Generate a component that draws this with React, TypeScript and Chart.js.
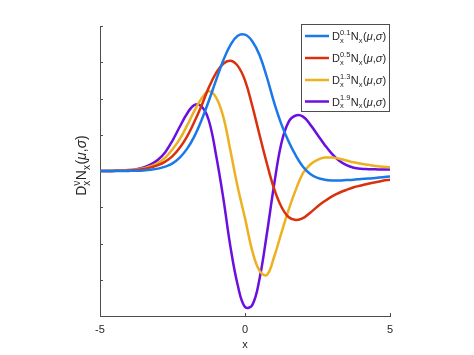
import { useEffect, useRef } from 'react';
import { Chart, registerables } from 'chart.js';

Chart.register(...registerables);

// x grid (step 0.25)
const xValues = [
  -5, -4.75, -4.5, -4.25, -4, -3.75, -3.5, -3.25, -3, -2.75, -2.5, -2.25, -2, -1.75, -1.5, -1.25, -1, -0.75, -0.5, -0.25,
  0, 0.25, 0.5, 0.75, 1, 1.25, 1.5, 1.75, 2, 2.25, 2.5, 2.75, 3, 3.25, 3.5, 3.75, 4, 4.25, 4.5, 4.75, 5,
];

// D^0.1
const alpha01Values = [
  0, 0, 0, 0, 0.003, 0.008, 0.017, 0.035, 0.065, 0.12, 0.21, 0.37, 0.61, 0.95, 1.4, 1.93, 2.5, 3.05, 3.48, 3.73,
  3.76, 3.58, 3.2, 2.6, 1.9, 1.3, 0.82, 0.43, 0.12, -0.08, -0.19, -0.24, -0.26, -0.26, -0.25, -0.24, -0.22, -0.21, -0.19, -0.17, -0.15,
];

// D^0.5
const alpha05Values = [
  0, 0, 0.003, 0.007, 0.015, 0.03, 0.055, 0.1, 0.16, 0.26, 0.41, 0.64, 0.95, 1.35, 1.8, 2.3, 2.7, 2.96, 3.04, 2.9,
  2.5, 1.8, 1.0, 0.22, -0.48, -0.98, -1.27, -1.35, -1.3, -1.15, -0.98, -0.83, -0.7, -0.6, -0.52, -0.45, -0.4, -0.35, -0.31, -0.27, -0.24,
];

// D^1.3
const alpha13Values = [
  0, 0, 0.005, 0.01, 0.02, 0.04, 0.075, 0.13, 0.22, 0.37, 0.6, 0.88, 1.25, 1.65, 2.0, 2.2, 2.03, 1.5, 0.55, -0.45,
  -1.3, -2.2, -2.75, -2.87, -2.38, -1.72, -1.08, -0.52, -0.06, 0.18, 0.31, 0.37, 0.37, 0.34, 0.29, 0.24, 0.2, 0.17, 0.14, 0.12, 0.1,
];

// D^1.9
const alpha19Values = [
  0, 0, 0.005, 0.01, 0.025, 0.05, 0.1, 0.18, 0.31, 0.52, 0.84, 1.22, 1.58, 1.82, 1.78, 1.4, 0.45, -0.74, -2.1, -3.15,
  -3.75, -3.7, -2.98, -1.75, -0.4, 0.75, 1.35, 1.53, 1.5, 1.28, 1.0, 0.72, 0.47, 0.28, 0.16, 0.09, 0.06, 0.05, 0.045, 0.04, 0.04,
];

const seriesOrders = ['0.1', '0.5', '1.3', '1.9'];
const seriesColors = ['#1a78e8', '#d9300e', '#edb120', '#6b0fe0'];
const seriesValues = [alpha01Values, alpha05Values, alpha13Values, alpha19Values];

const xTickValues = [-5, 0, 5];
const yTickValues = [-4, -3, -2, -1, 0, 1, 2, 3, 4];

const FAMILY = '"Liberation Sans", Arial, Helvetica, sans-serif';
const AXIS_COLOR = '#4d4d4d';
const TEXT_COLOR = '#262626';

type Tok = { text?: string; sup?: string; sub?: string; italic?: boolean };

const fontOf = (size: number, italic?: boolean) => `${italic ? 'italic ' : ''}${size}px ${FAMILY}`;

function tokWidth(ctx: CanvasRenderingContext2D, t: Tok, main: number, small: number) {
  if (t.text !== undefined) {
    ctx.font = fontOf(main, t.italic);
    return ctx.measureText(t.text).width;
  }
  ctx.font = fontOf(small);
  const a = t.sup ? ctx.measureText(t.sup).width : 0;
  const b = t.sub ? ctx.measureText(t.sub).width : 0;
  return Math.max(a, b) + 0.5;
}

function tokensWidth(ctx: CanvasRenderingContext2D, toks: Tok[], main: number, small: number) {
  return toks.reduce((s, t) => s + tokWidth(ctx, t, main, small), 0);
}

function drawTokens(
  ctx: CanvasRenderingContext2D,
  toks: Tok[],
  x: number,
  y: number,
  main: number,
  small: number,
  supDy: number,
  subDy: number,
) {
  let cx = x;
  ctx.textAlign = 'left';
  ctx.textBaseline = 'alphabetic';
  for (const t of toks) {
    if (t.text !== undefined) {
      ctx.font = fontOf(main, t.italic);
      ctx.fillText(t.text, cx, y);
    } else {
      ctx.font = fontOf(small);
      if (t.sup) ctx.fillText(t.sup, cx, y + supDy);
      if (t.sub) ctx.fillText(t.sub, cx, y + subDy);
    }
    cx += tokWidth(ctx, t, main, small);
  }
}

const labelTokens = (order: string): Tok[] => [
  { text: 'D' },
  { sup: order, sub: 'x' },
  { text: 'N' },
  { sub: 'x' },
  { text: '(' },
  { text: 'μ', italic: true },
  { text: ',' },
  { text: 'σ', italic: true },
  { text: ')' },
];

const decorPlugin = {
  id: 'decor',
  beforeDatasetsDraw(chart: any) {
    const ctx: CanvasRenderingContext2D = chart.ctx;
    const { left, bottom } = chart.chartArea;
    const xs = chart.scales.x;
    const ys = chart.scales.y;
    ctx.save();
    ctx.strokeStyle = AXIS_COLOR;
    ctx.lineWidth = 1;
    ctx.beginPath();
    for (const v of yTickValues) {
      const py = Math.round(ys.getPixelForValue(v)) + 0.5;
      ctx.moveTo(left, py);
      ctx.lineTo(left + 3, py);
    }
    for (const v of xTickValues) {
      const px = Math.round(xs.getPixelForValue(v)) + 0.5;
      ctx.moveTo(px, bottom);
      ctx.lineTo(px, bottom - 3);
    }
    ctx.stroke();
    ctx.restore();
  },
  afterDraw(chart: any) {
    const ctx: CanvasRenderingContext2D = chart.ctx;
    ctx.save();
    ctx.fillStyle = TEXT_COLOR;

    // y-axis label (rotated)
    const yToks: Tok[] = [
      { text: 'D' },
      { sup: 'ν', sub: 'x' },
      { text: 'N' },
      { sub: 'x' },
      { text: '(' },
      { text: 'μ', italic: true },
      { text: ',' },
      { text: 'σ', italic: true },
      { text: ')' },
    ];
    const w = tokensWidth(ctx, yToks, 14, 10);
    ctx.save();
    ctx.translate(86, 165.5);
    ctx.rotate(-Math.PI / 2);
    drawTokens(ctx, yToks, -w / 2, 0, 14, 10, -6.5, 3.5);
    ctx.restore();

    // legend
    ctx.fillStyle = '#ffffff';
    ctx.fillRect(301.5, 24.5, 88, 87);
    ctx.strokeStyle = AXIS_COLOR;
    ctx.lineWidth = 1;
    ctx.strokeRect(301.5, 24.5, 88, 87);
    const rows = [36, 58, 80, 101.5];
    seriesOrders.forEach((o, i) => {
      const y = rows[i];
      ctx.strokeStyle = seriesColors[i];
      ctx.lineWidth = 2.5;
      ctx.beginPath();
      ctx.moveTo(305, y);
      ctx.lineTo(329, y);
      ctx.stroke();
      ctx.fillStyle = TEXT_COLOR;
      drawTokens(ctx, labelTokens(o), 332, y + 4, 11, 7.5, -5.5, 2.5);
    });
    ctx.restore();
  },
};

export default function App() {
  const canvasRef = useRef<HTMLCanvasElement | null>(null);

  useEffect(() => {
    if (!canvasRef.current) return;
    const chart = new Chart(canvasRef.current, {
      type: 'line',
      data: {
        datasets: seriesValues.map((vals, i) => ({
          label: `D${seriesOrders[i]}`,
          data: xValues.map((x, j) => ({ x, y: vals[j] })),
          borderColor: seriesColors[i],
          backgroundColor: seriesColors[i],
          borderWidth: 2.5,
          pointRadius: 0,
          tension: 0.4,
          fill: false,
        })),
      },
      options: {
        responsive: false,
        animation: false,
        layout: { padding: { left: 100, right: 84, top: 26, bottom: 0 } },
        plugins: { legend: { display: false }, tooltip: { enabled: false } },
        scales: {
          x: {
            type: 'linear',
            min: -5,
            max: 5,
            afterFit: (s: any) => {
              s.height = 39;
            },
            grid: { display: false, drawTicks: false },
            border: { display: true, color: AXIS_COLOR, width: 1 },
            afterBuildTicks: (s: any) => {
              s.ticks = xTickValues.map((v) => ({ value: v }));
            },
            ticks: {
              padding: 7,
              color: TEXT_COLOR,
              font: { family: FAMILY, size: 11 },
              maxRotation: 0,
              autoSkip: false,
            },
            title: {
              display: true,
              text: 'x',
              color: TEXT_COLOR,
              font: { family: FAMILY, size: 11 },
              padding: { top: 0, bottom: 3.4 },
            },
          },
          y: {
            type: 'linear',
            min: -4,
            max: 4,
            afterFit: (s: any) => {
              s.width = 0;
            },
            afterBuildTicks: (s: any) => {
              s.ticks = yTickValues.map((v) => ({ value: v }));
            },
            grid: { display: false, drawTicks: false },
            border: { display: true, color: AXIS_COLOR, width: 1 },
            ticks: { display: false },
          },
        },
      } as any,
      plugins: [decorPlugin],
    });
    return () => chart.destroy();
  }, []);

  return (
    <canvas
      ref={canvasRef}
      width={474}
      height={355}
      style={{ position: 'fixed', left: 0, top: 0, width: 474, height: 355, display: 'block' }}
    />
  );
}
